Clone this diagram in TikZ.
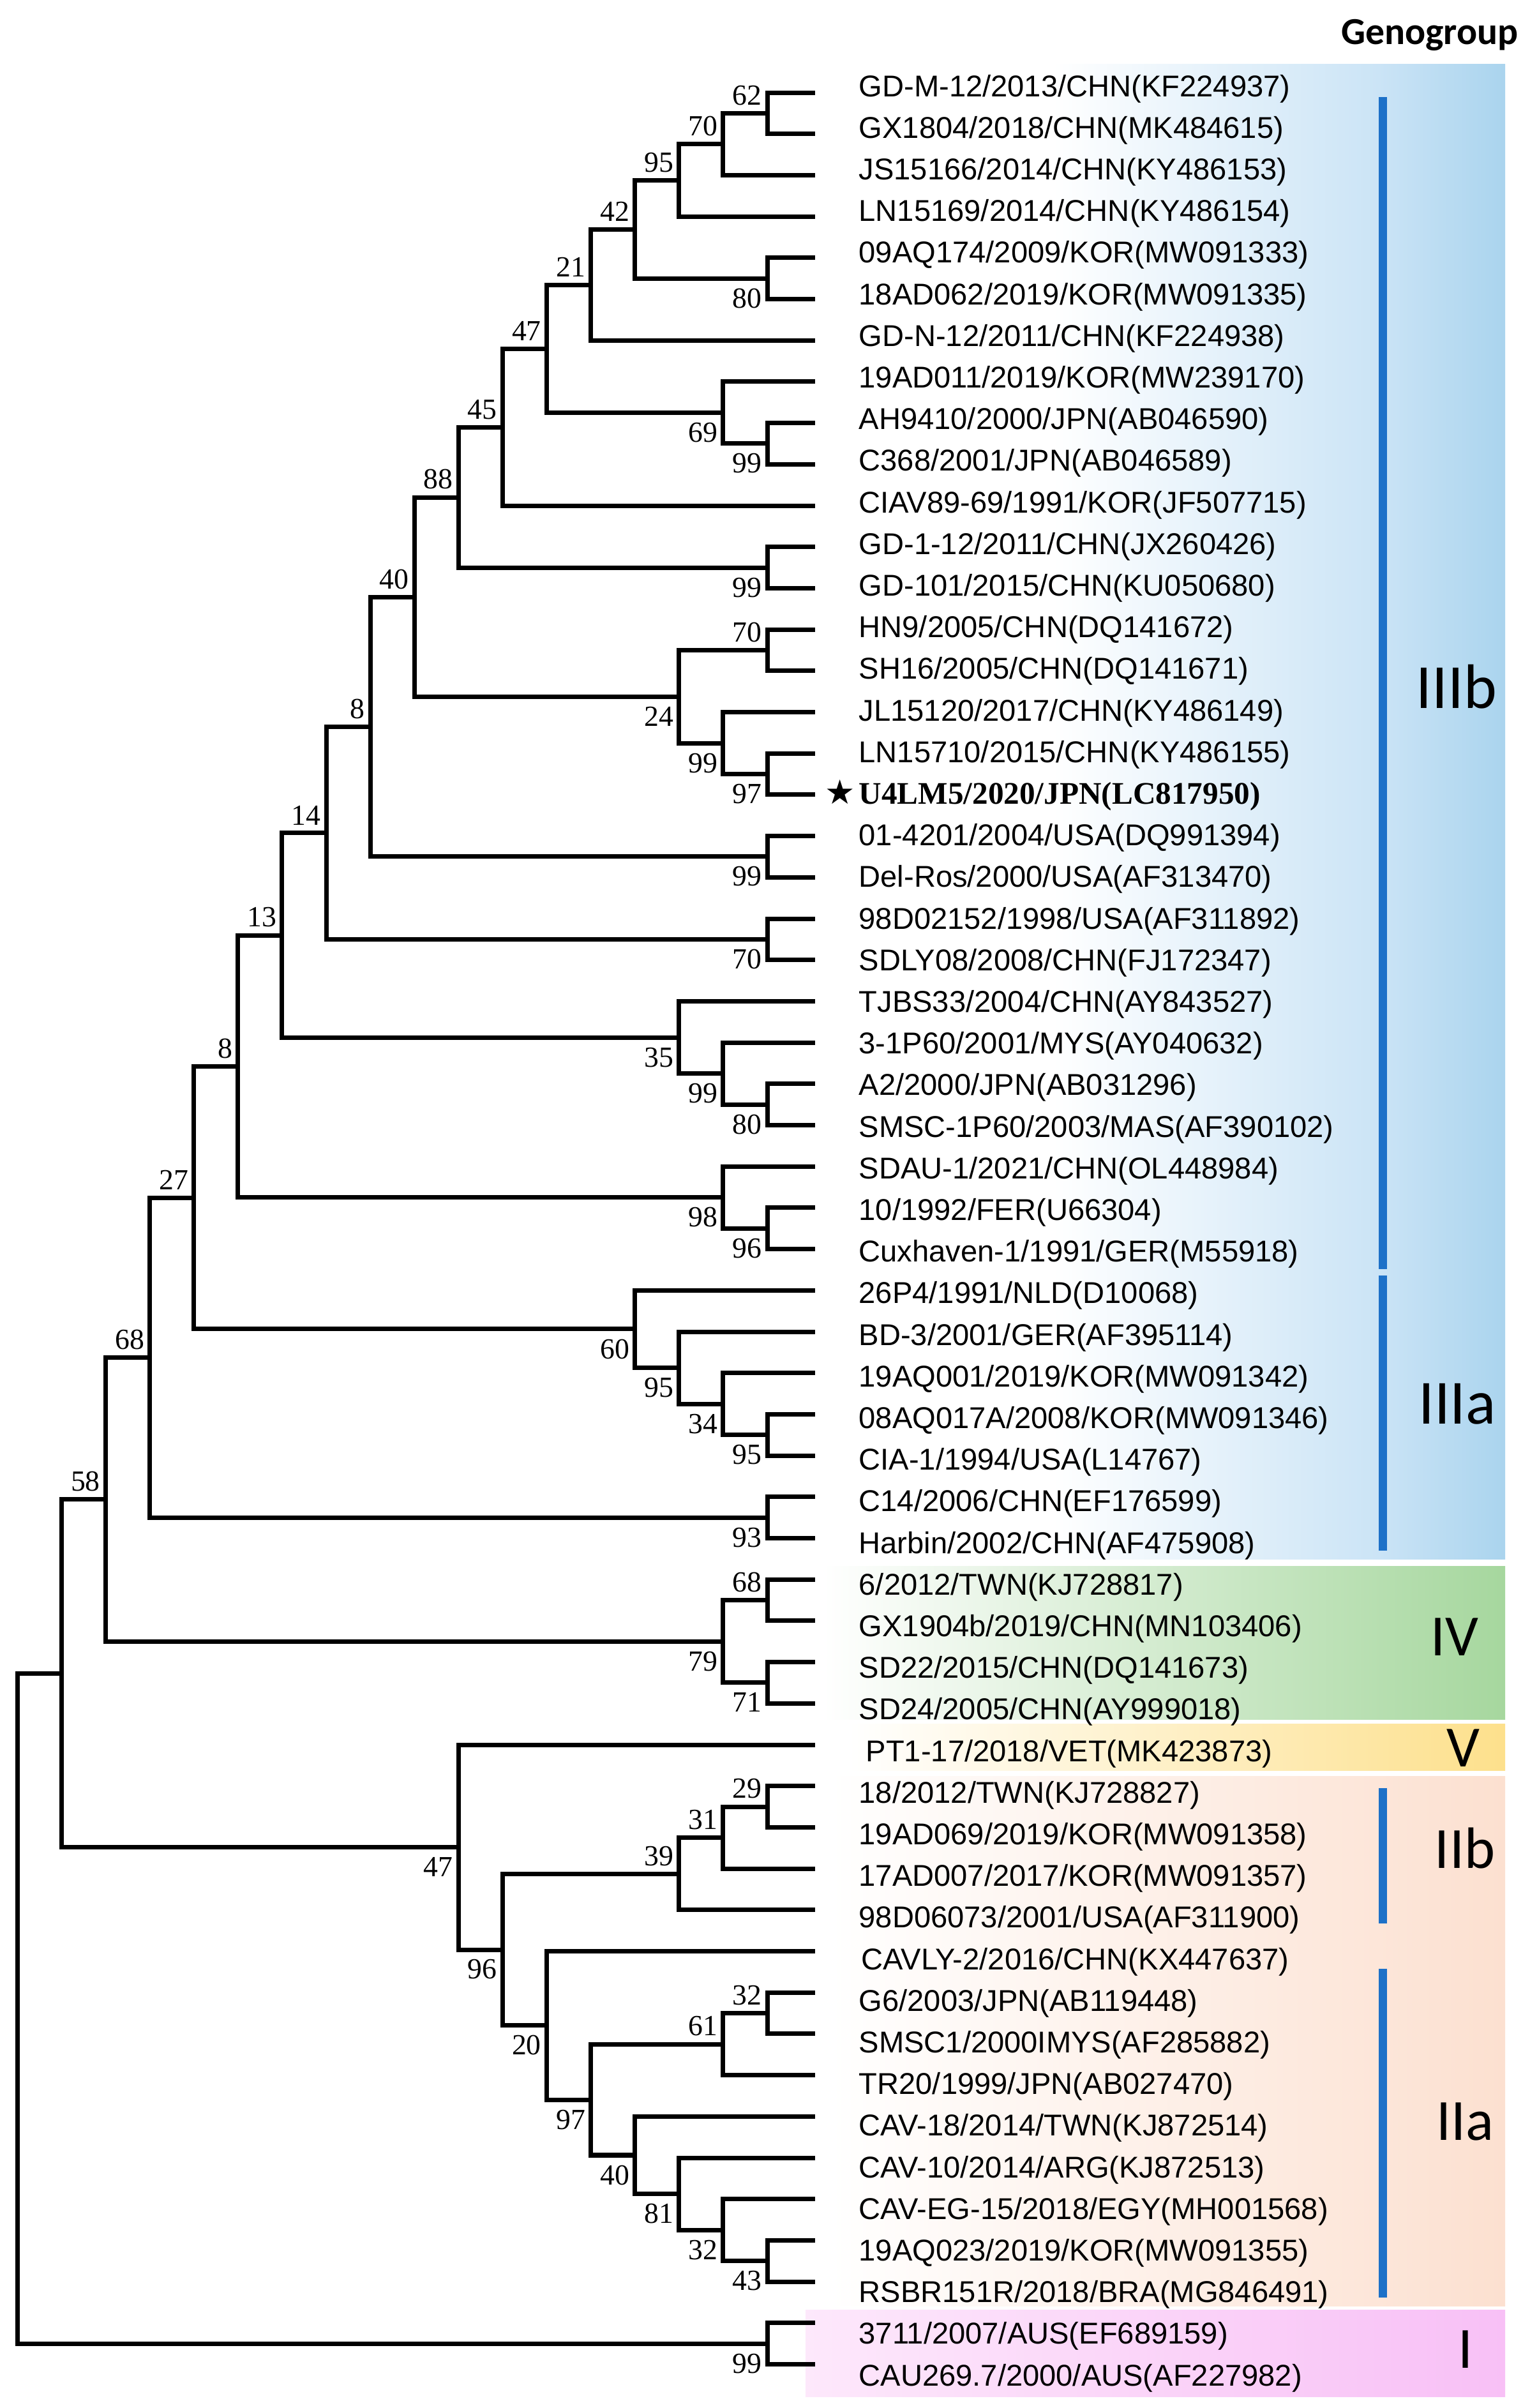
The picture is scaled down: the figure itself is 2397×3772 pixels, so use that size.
\documentclass[tikz,border=0pt]{standalone}
\usepackage{fontspec}
\setmainfont{Liberation Serif}
\newfontfamily\taxfont{Liberation Sans}
\newfontfamily\calfont{Carlito}
\newfontfamily\symfont{DejaVu Sans}

\definecolor{barblue}{RGB}{29,113,200}
\definecolor{blueA}{RGB}{203,228,246}
\definecolor{blueB}{RGB}{170,212,238}
\definecolor{greenB}{RGB}{166,215,158}
\definecolor{yellowB}{RGB}{253,224,140}
\definecolor{peachB}{RGB}{252,224,208}
\definecolor{pinkA}{RGB}{253,232,251}
\definecolor{pinkB}{RGB}{248,192,246}

\tikzset{
    limb/.style={line width=0.07cm},
    taxon/.style={anchor=base west, inner sep=0pt, font=\taxfont\fontsize{13.4pt}{16pt}\selectfont},
    bsup/.style={anchor=south east, inner sep=0pt, xshift=-0.08cm, yshift=0.12cm, font=\rmfamily\fontsize{13pt}{14pt}\selectfont},
    bsdn/.style={anchor=north east, inner sep=0pt, xshift=-0.08cm, yshift=-0.15cm, font=\rmfamily\fontsize{13pt}{14pt}\selectfont},
    grp/.style={inner sep=0pt, font=\calfont\fontsize{26pt}{26pt}\selectfont}
}

\newcommand{\clade}[7]{%
    \coordinate (#1) at ({1202-(#2-1)*69.1},{145+(#3-1)*64.7});
    \draw[limb] (#1) |- (#4) (#1) |- (#5);
    \node[#6] (#1lab) at (#1) {#7};
}
\newcommand{\starleaf}{\llap{\symfont\fontsize{15pt}{16pt}\selectfont ★\kern0.06cm}{\rmfamily\bfseries\fontsize{14pt}{16pt}\selectfont U4LM5/2020/JPN(LC817950)}}

\begin{document}
\begin{tikzpicture}[x=0.01cm, y=-0.01cm]
    \useasboundingbox (0,0) rectangle (2397,3772);

    \shade[left color=white, right color=blueA] (1650,100) rectangle (2160,2442);
    \shade[left color=blueA, right color=blueB] (2160,100) rectangle (2358,2442);
    \shade[left color=white, right color=greenB] (1290,2453) rectangle (2358,2693);
    \shade[left color=white, right color=yellowB] (1330,2700) rectangle (2358,2773);
    \shade[left color=white, right color=peachB] (1300,2782) rectangle (2358,3612);
    \shade[left color=pinkA, right color=pinkB] (1262,3618) rectangle (2358,3754);

    \fill[barblue] (2160,152) rectangle (2173,1988);
    \fill[barblue] (2160,1998) rectangle (2173,2429);
    \fill[barblue] (2160,2801) rectangle (2173,3013);
    \fill[barblue] (2160,3084) rectangle (2173,3599);

    \node[anchor=base, inner sep=0pt, font=\calfont\bfseries\fontsize{17pt}{17pt}\selectfont] (head) at (2240,69) {Genogroup};
    \node[grp, font=\calfont\fontsize{28pt}{28pt}\selectfont] (gIIIb) at (2282,1076) {IIIb};
    \node[grp, font=\calfont\fontsize{28pt}{28pt}\selectfont] (gIIIa) at (2283,2199) {IIIa};
    \node[grp] (gIV) at (2279,2564) {IV};
    \node[grp] (gV) at (2292,2738) {V};
    \node[grp] (gIIb) at (2295,2895) {IIb};
    \node[grp] (gIIa) at (2295,3323) {IIa};
    \node[grp] (gI) at (2296,3680) {I};

    \foreach \i in {1,...,56}
        \coordinate (t\i) at (1277,{145+(\i-1)*64.7});

    \node[taxon] (l1) at (1345,151) {GD-M-12/2013/CHN(KF224937)};
    \node[taxon] (l2) at (1345,216.2) {GX1804/2018/CHN(MK484615)};
    \node[taxon] (l3) at (1345,281.4) {JS15166/2014/CHN(KY486153)};
    \node[taxon] (l4) at (1345,346.6) {LN15169/2014/CHN(KY486154)};
    \node[taxon] (l5) at (1345,411.8) {09AQ174/2009/KOR(MW091333)};
    \node[taxon] (l6) at (1345,477) {18AD062/2019/KOR(MW091335)};
    \node[taxon] (l7) at (1345,542.2) {GD-N-12/2011/CHN(KF224938)};
    \node[taxon] (l8) at (1345,607.4) {19AD011/2019/KOR(MW239170)};
    \node[taxon] (l9) at (1345,672.6) {AH9410/2000/JPN(AB046590)};
    \node[taxon] (l10) at (1345,737.8) {C368/2001/JPN(AB046589)};
    \node[taxon] (l11) at (1345,803) {CIAV89-69/1991/KOR(JF507715)};
    \node[taxon] (l12) at (1345,868.2) {GD-1-12/2011/CHN(JX260426)};
    \node[taxon] (l13) at (1345,933.4) {GD-101/2015/CHN(KU050680)};
    \node[taxon] (l14) at (1345,998.6) {HN9/2005/CHN(DQ141672)};
    \node[taxon] (l15) at (1345,1063.8) {SH16/2005/CHN(DQ141671)};
    \node[taxon] (l16) at (1345,1129) {JL15120/2017/CHN(KY486149)};
    \node[taxon] (l17) at (1345,1194.2) {LN15710/2015/CHN(KY486155)};
    \node[taxon] (l18) at (1345,1259.4) {\starleaf};
    \node[taxon] (l19) at (1345,1324.6) {01-4201/2004/USA(DQ991394)};
    \node[taxon] (l20) at (1345,1389.8) {Del-Ros/2000/USA(AF313470)};
    \node[taxon] (l21) at (1345,1455) {98D02152/1998/USA(AF311892)};
    \node[taxon] (l22) at (1345,1520.2) {SDLY08/2008/CHN(FJ172347)};
    \node[taxon] (l23) at (1345,1585.4) {TJBS33/2004/CHN(AY843527)};
    \node[taxon] (l24) at (1345,1650.6) {3-1P60/2001/MYS(AY040632)};
    \node[taxon] (l25) at (1345,1715.8) {A2/2000/JPN(AB031296)};
    \node[taxon] (l26) at (1345,1781) {SMSC-1P60/2003/MAS(AF390102)};
    \node[taxon] (l27) at (1345,1846.2) {SDAU-1/2021/CHN(OL448984)};
    \node[taxon] (l28) at (1345,1911.4) {10/1992/FER(U66304)};
    \node[taxon] (l29) at (1345,1976.6) {Cuxhaven-1/1991/GER(M55918)};
    \node[taxon] (l30) at (1345,2041.8) {26P4/1991/NLD(D10068)};
    \node[taxon] (l31) at (1345,2107) {BD-3/2001/GER(AF395114)};
    \node[taxon] (l32) at (1345,2172.2) {19AQ001/2019/KOR(MW091342)};
    \node[taxon] (l33) at (1345,2237.4) {08AQ017A/2008/KOR(MW091346)};
    \node[taxon] (l34) at (1345,2302.6) {CIA-1/1994/USA(L14767)};
    \node[taxon] (l35) at (1345,2367.8) {C14/2006/CHN(EF176599)};
    \node[taxon] (l36) at (1345,2433) {Harbin/2002/CHN(AF475908)};
    \node[taxon] (l37) at (1345,2498.2) {6/2012/TWN(KJ728817)};
    \node[taxon] (l38) at (1345,2563.4) {GX1904b/2019/CHN(MN103406)};
    \node[taxon] (l39) at (1345,2628.6) {SD22/2015/CHN(DQ141673)};
    \node[taxon] (l40) at (1345,2693.8) {SD24/2005/CHN(AY999018)};
    \node[taxon] (l41) at (1356,2759) {PT1-17/2018/VET(MK423873)};
    \node[taxon] (l42) at (1345,2824.2) {18/2012/TWN(KJ728827)};
    \node[taxon] (l43) at (1345,2889.4) {19AD069/2019/KOR(MW091358)};
    \node[taxon] (l44) at (1345,2954.6) {17AD007/2017/KOR(MW091357)};
    \node[taxon] (l45) at (1345,3019.8) {98D06073/2001/USA(AF311900)};
    \node[taxon] (l46) at (1349,3085) {CAVLY-2/2016/CHN(KX447637)};
    \node[taxon] (l47) at (1345,3150.2) {G6/2003/JPN(AB119448)};
    \node[taxon] (l48) at (1345,3215.4) {SMSC1/2000IMYS(AF285882)};
    \node[taxon] (l49) at (1345,3280.6) {TR20/1999/JPN(AB027470)};
    \node[taxon] (l50) at (1345,3345.8) {CAV-18/2014/TWN(KJ872514)};
    \node[taxon] (l51) at (1345,3411) {CAV-10/2014/ARG(KJ872513)};
    \node[taxon] (l52) at (1345,3476.2) {CAV-EG-15/2018/EGY(MH001568)};
    \node[taxon] (l53) at (1345,3541.4) {19AQ023/2019/KOR(MW091355)};
    \node[taxon] (l54) at (1345,3606.6) {RSBR151R/2018/BRA(MG846491)};
    \node[taxon] (l55) at (1345,3671.8) {3711/2007/AUS(EF689159)};
    \node[taxon] (l56) at (1345,3737) {CAU269.7/2000/AUS(AF227982)};

    \clade{b62}{1}{1.5}{t1}{t2}{bsup}{62}
    \clade{b70}{2}{2.25}{b62}{t3}{bsup}{70}
    \clade{b95}{3}{3.125}{b70}{t4}{bsup}{95}
    \clade{b80}{1}{5.5}{t5}{t6}{bsdn}{80}
    \clade{b42}{4}{4.3125}{b95}{b80}{bsup}{42}
    \clade{b21}{5}{5.65625}{b42}{t7}{bsup}{21}
    \clade{b99a}{1}{9.5}{t9}{t10}{bsdn}{99}
    \clade{b69}{2}{8.75}{t8}{b99a}{bsdn}{69}
    \clade{b47}{6}{7.203125}{b21}{b69}{bsup}{47}
    \clade{b45}{7}{9.1015625}{b47}{t11}{bsup}{45}
    \clade{b99b}{1}{12.5}{t12}{t13}{bsdn}{99}
    \clade{b88}{8}{10.80078}{b45}{b99b}{bsup}{88}
    \clade{b70b}{1}{14.5}{t14}{t15}{bsup}{70}
    \clade{b97}{1}{17.5}{t17}{t18}{bsdn}{97}
    \clade{b99c}{2}{16.75}{t16}{b97}{bsdn}{99}
    \clade{b24}{3}{15.625}{b70b}{b99c}{bsdn}{24}
    \clade{b40}{9}{13.21289}{b88}{b24}{bsup}{40}
    \clade{b99d}{1}{19.5}{t19}{t20}{bsdn}{99}
    \clade{b8a}{10}{16.35645}{b40}{b99d}{bsup}{8}
    \clade{b70c}{1}{21.5}{t21}{t22}{bsdn}{70}
    \clade{b14}{11}{18.92822}{b8a}{b70c}{bsup}{14}
    \clade{b80b}{1}{25.5}{t25}{t26}{bsdn}{80}
    \clade{b99e}{2}{24.75}{t24}{b80b}{bsdn}{99}
    \clade{b35}{3}{23.875}{t23}{b99e}{bsdn}{35}
    \clade{b13}{12}{21.40161}{b14}{b35}{bsup}{13}
    \clade{b96}{1}{28.5}{t28}{t29}{bsdn}{96}
    \clade{b98}{2}{27.75}{t27}{b96}{bsdn}{98}
    \clade{b8b}{13}{24.57581}{b13}{b98}{bsup}{8}
    \clade{b95c}{1}{33.5}{t33}{t34}{bsdn}{95}
    \clade{b34}{2}{32.75}{t32}{b95c}{bsdn}{34}
    \clade{b95b}{3}{31.875}{t31}{b34}{bsdn}{95}
    \clade{b60}{4}{30.9375}{t30}{b95b}{bsdn}{60}
    \clade{b27}{14}{27.75665}{b8b}{b60}{bsup}{27}
    \clade{b93}{1}{35.5}{t35}{t36}{bsdn}{93}
    \clade{b68}{15}{31.62833}{b27}{b93}{bsup}{68}
    \clade{b68b}{1}{37.5}{t37}{t38}{bsup}{68}
    \clade{b71}{1}{39.5}{t39}{t40}{bsdn}{71}
    \clade{b79}{2}{38.5}{b68b}{b71}{bsdn}{79}
    \clade{b58}{16}{35.06416}{b68}{b79}{bsup}{58}
    \clade{b29}{1}{42.5}{t42}{t43}{bsup}{29}
    \clade{b31}{2}{43.25}{b29}{t44}{bsup}{31}
    \clade{b39}{3}{44.125}{b31}{t45}{bsup}{39}
    \clade{b32}{1}{47.5}{t47}{t48}{bsup}{32}
    \clade{b61}{2}{48.25}{b32}{t49}{bsup}{61}
    \clade{b43}{1}{53.5}{t53}{t54}{bsdn}{43}
    \clade{b32b}{2}{52.75}{t52}{b43}{bsdn}{32}
    \clade{b81}{3}{51.875}{t51}{b32b}{bsdn}{81}
    \clade{b40b}{4}{50.9375}{t50}{b81}{bsdn}{40}
    \clade{b97b}{5}{49.59375}{b61}{b40b}{bsdn}{97}
    \clade{b20}{6}{47.796875}{t46}{b97b}{bsdn}{20}
    \clade{b96b}{7}{45.96094}{b39}{b20}{bsdn}{96}
    \clade{b47b}{8}{43.48047}{t41}{b96b}{bsdn}{47}
    \clade{b99f}{1}{55.5}{t55}{t56}{bsdn}{99}

    \coordinate (bx) at ({1202-16*69.1},{145+38.27232*64.7});
    \draw[limb] (bx) |- (b58) (bx) |- (b47b);
    \coordinate (root) at ({1202-17*69.1},{145+46.38616*64.7});
    \draw[limb] (root) |- (bx) (root) |- (b99f);
\end{tikzpicture}
\end{document}
